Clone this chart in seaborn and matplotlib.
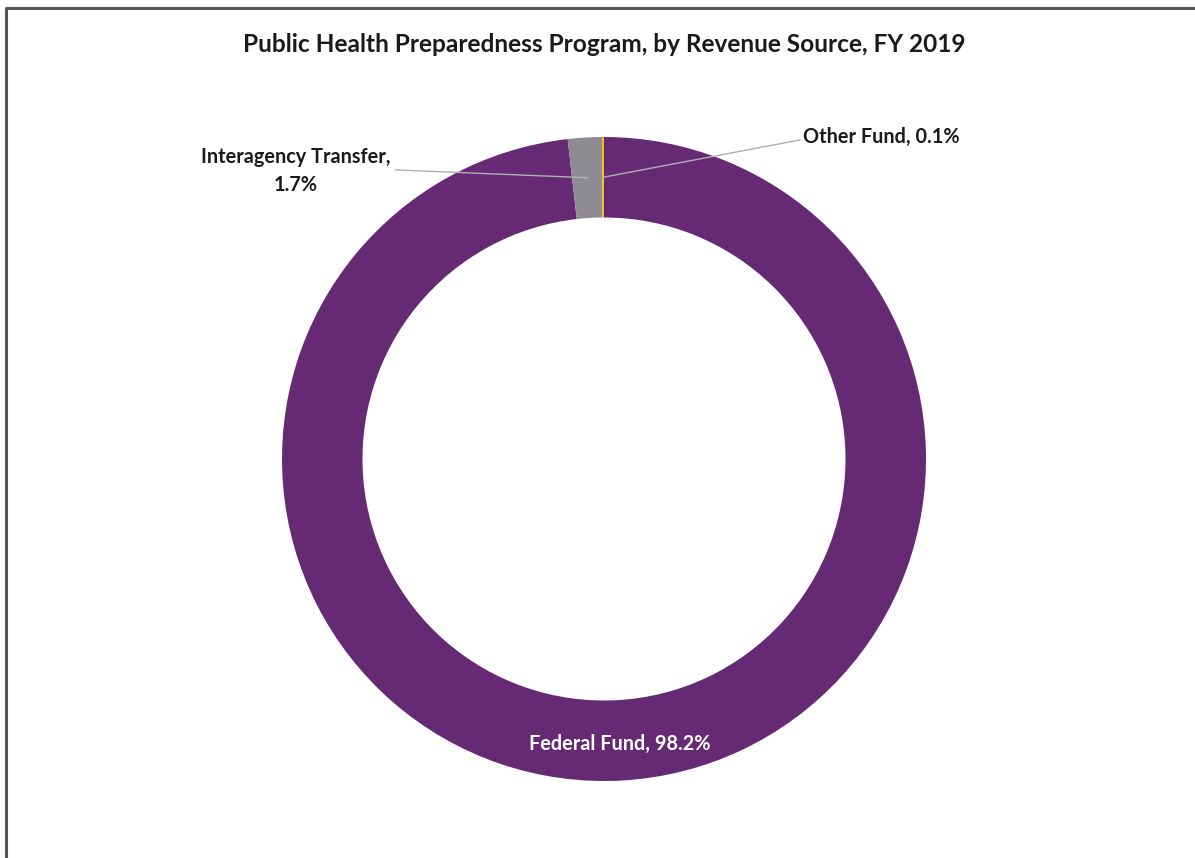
import matplotlib
matplotlib.use("Agg")
import matplotlib.pyplot as plt
from matplotlib.lines import Line2D
import numpy as np
import seaborn as sns

# Revenue sources and their shares (%)
sources = ["Federal Fund", "Interagency Transfer", "Other Fund"]
shares = [98.2, 1.7, 0.1]
share_labels = ["98.2%", "1.7%", "0.1%"]
colors = ["#662A75", "#8E8C92", "#F2C200"]

sns.set_theme(style="white")
plt.rcParams["font.family"] = ["Lato", "DejaVu Sans"]

W, H = 1195, 858
fig = plt.figure(figsize=(W / 100, H / 100), dpi=100)
fig.patch.set_facecolor("white")

# donut centre and outer radius in pixels
cx, cy, R = 604, 858 - 459, 322
ax = fig.add_axes([(cx - R) / W, (cy - R) / H, 2 * R / W, 2 * R / H])

wedges, _ = ax.pie(
    shares,
    colors=colors,
    startangle=90,
    counterclock=False,
    radius=1.0,
    wedgeprops=dict(width=0.25, edgecolor="none", linewidth=0),
)
ax.set_xlim(-1, 1)
ax.set_ylim(-1, 1)
ax.set_aspect("equal")
ax.axis("off")

def mid_point(w, r=0.875):
    ang = np.deg2rad((w.theta1 + w.theta2) / 2)
    return r * np.cos(ang), r * np.sin(ang)

label_kw = dict(fontsize=14.3, fontweight="bold", color="#1a1a1a")

# Federal Fund label inside the ring
fx, fy = mid_point(wedges[0], 0.885)
ax.text(fx, fy, f"{sources[0]}, {share_labels[0]}", ha="center", va="center",
        fontsize=14.3, fontweight="bold", color="white")

# Interagency Transfer label with leader line
ix, iy = mid_point(wedges[1])
ax.add_line(Line2D([ix, -0.649], [iy, 0.898], color="#b0b0b0", lw=1.0))
ax.text(-0.957, 0.894, f"{sources[1]},\n{share_labels[1]}", ha="center", va="center",
        linespacing=1.5, clip_on=False, **label_kw)

# Other Fund label with leader line
ox, oy = mid_point(wedges[2])
ax.add_line(Line2D([ox, 0.609], [oy, 0.991], color="#b0b0b0", lw=1.0))
ax.text(0.618, 1.0, f"{sources[2]}, {share_labels[2]}", ha="left", va="center",
        clip_on=False, **label_kw)

fig.text(cx / W, 1 - 45 / H, "Public Health Preparedness Program, by Revenue Source, FY 2019",
         ha="center", va="center", fontsize=17.6, fontweight="bold", color="#1a1a1a")

# outer frame (left and top edges)
fig.add_artist(Line2D([6.5 / W, 6.5 / W], [0, 1 - 7.5 / H], transform=fig.transFigure,
                      color="#555555", lw=2.2, solid_capstyle="butt"))
fig.add_artist(Line2D([5.4 / W, 1], [1 - 7.5 / H, 1 - 7.5 / H], transform=fig.transFigure,
                      color="#555555", lw=2.2, solid_capstyle="butt"))

fig.savefig("out.png", dpi=100, facecolor="white")
